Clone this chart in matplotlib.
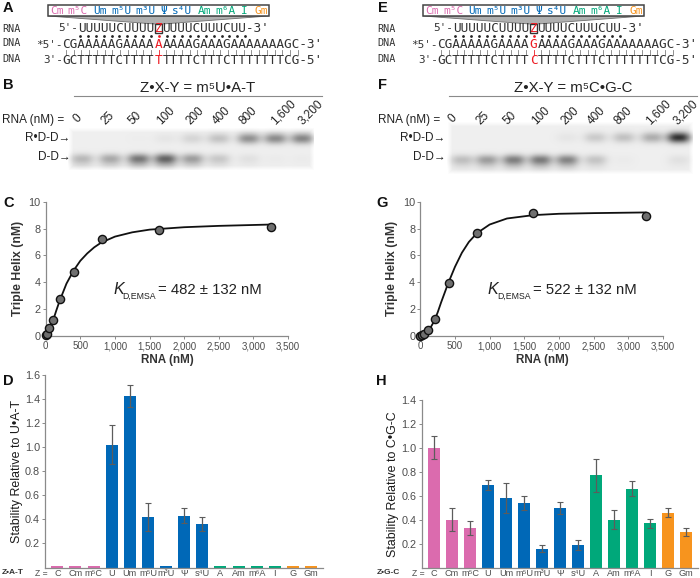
import numpy as np
import matplotlib
matplotlib.use("Agg")
import matplotlib.pyplot as plt
from matplotlib.patches import Polygon, Rectangle

plt.rcParams['font.family'] = ['Liberation Sans', 'DejaVu Sans']
plt.rcParams['mathtext.fontset'] = 'custom'
plt.rcParams['mathtext.rm'] = 'Liberation Sans'
plt.rcParams['mathtext.it'] = 'Liberation Sans:italic'
plt.rcParams['mathtext.bf'] = 'Liberation Sans:bold'
plt.rcParams['mathtext.default'] = 'regular'

W, H = 700, 578
PINK, BLUE, GREEN, ORANGE = '#DB6BAE', '#0068B7', '#00A87A', '#F7941E'
GRAY = '#4d4d4d'

# ---- data ----
box_labels = ['Cm', 'm⁵C', 'Um', 'm⁵U', 'm³U', 'Ψ', 's⁴U', 'Am', 'm⁶A', 'I', 'Gm']
box_colors = [PINK, PINK, BLUE, BLUE, BLUE, BLUE, BLUE, GREEN, GREEN, GREEN, ORANGE]
box_x = [56.7, 78, 100, 121.7, 145.3, 163.3, 182.3, 204.3, 225.7, 244.3, 261]

rna_pre, rna_left, rna_right = "5'-", "UUUUUCUUUU", "UUUUCUUUCUU-3'"
dna1_pre, dna1_left, dna1_right = "*5'-", "CGAAAAAGAAAA", "AAAAGAAAGAAAAAAAGC-3'"
dna2_pre, dna2_left, dna2_right = "3'-", "GCTTTTTCTTTT", "TTTTCTTTCTTTTTTTCG-5'"
pair_A = ('A', 'T')
pair_E = ('G', 'C')

lane_labels = ['0', '25', '50', '100', '200', '400', '800', '1,600', '3,200']
lane_lab_x = [77.3, 108.3, 135, 165.7, 195, 221.7, 248.3, 283.3, 310.7]
lane_lab_y = [119, 118, 118, 116, 116, 116, 116, 112, 112]

gel_b_lanes = [81.7, 110, 138.3, 165, 191.7, 218.3, 248.3, 275, 301.7]
gel_b_upper = [0.0, 0.0, 0.01, 0.05, 0.14, 0.24, 0.52, 0.55, 0.58]
gel_b_lower = [0.28, 0.36, 0.62, 0.72, 0.42, 0.20, 0.07, 0.02, 0.02]
gel_f_lanes = [461.7, 486.7, 513.3, 540, 566.7, 595, 623.3, 651.7, 678.3]
gel_f_upper = [0.0, 0.0, 0.0, 0.0, 0.05, 0.2, 0.25, 0.36, 1.05]
gel_f_lower = [0.25, 0.42, 0.58, 0.6, 0.55, 0.22, 0.02, 0.0, 0.07]

rna_nM = [0, 26, 52, 105, 205, 410, 815, 1630, 3250]
helix_c = [0.05, 0.15, 0.6, 1.2, 2.75, 4.8, 7.2, 7.9, 8.15]
helix_g = [0.0, 0.05, 0.15, 0.45, 1.27, 3.92, 7.69, 9.13, 8.96]
curve_c_x = [0, 25, 50, 100, 150, 200, 300, 400, 500, 600, 700, 800, 1000, 1250, 1500, 2000, 2500, 3250]
curve_c_y = [0, 0.2, 0.45, 1.05, 1.85, 2.6, 3.9, 4.85, 5.6, 6.15, 6.6, 6.95, 7.4, 7.72, 7.92, 8.1, 8.2, 8.3]
curve_g_x = [0, 50, 100, 150, 200, 250, 300, 350, 400, 500, 600, 700, 815, 1000, 1250, 1630, 2000, 2500, 3250]
curve_g_y = [0, 0.08, 0.3, 0.65, 1.1, 1.75, 2.5, 3.2, 3.9, 5.15, 6.2, 7.0, 7.65, 8.3, 8.75, 9.0, 9.1, 9.15, 9.2]

mods = ['C', 'Cm', 'm⁵C', 'U', 'Um', 'm⁵U', 'm³U', 'Ψ', 's⁴U',
        'A', 'Am', 'm⁶A', 'I', 'G', 'Gm']
mod_colors = [PINK]*3 + [BLUE]*6 + [GREEN]*4 + [ORANGE]*2
d_vals = [0.01, 0.01, 0.01, 1.02, 1.42, 0.42, 0.01, 0.43, 0.36, 0.01, 0.01, 0.01, 0.01, 0.01, 0.01]
d_errs = [0, 0, 0, 0.16, 0.09, 0.115, 0, 0.06, 0.06, 0, 0, 0, 0, 0, 0]
h_vals = [1.0, 0.40, 0.33, 0.69, 0.58, 0.54, 0.16, 0.50, 0.19, 0.77, 0.40, 0.66, 0.37, 0.46, 0.30]
h_errs = [0.095, 0.095, 0.06, 0.04, 0.125, 0.06, 0.03, 0.05, 0.045, 0.135, 0.08, 0.06, 0.035, 0.035, 0.035]

# ---- figure ----
fig = plt.figure(figsize=(W/100, H/100), dpi=100)
ov = fig.add_axes([0, 0, 1, 1], zorder=5)
ov.set_xlim(0, W); ov.set_ylim(H, 0); ov.axis('off'); ov.patch.set_alpha(0)
ax_gel = fig.add_axes([0, 0, 1, 1], zorder=0)
ax_gel.set_xlim(0, W); ax_gel.set_ylim(H, 0); ax_gel.axis('off')


def px_axes(x0, x1, ytop, ybot):
    return fig.add_axes([x0/W, 1-ybot/H, (x1-x0)/W, (ybot-ytop)/H], zorder=2)


ADV = 7.72
FS = ADV/0.602*0.72
MONO = dict(family='DejaVu Sans Mono', fontsize=FS, va='center', ha='left', color='#333333')
LETTER = dict(fontsize=10.5, fontweight='bold', va='center', color='#111111')


def seq_line(pre, left, mid, right, xz, y, dx):
    x0 = dx + xz - ADV/2
    xl = x0 - len(left)*ADV
    ov.text(xl + 0.6, y, pre, **{**MONO, 'ha': 'right', 'fontsize': FS*0.86})
    ov.text(xl, y, left, **MONO)
    ov.text(x0, y, mid, **{**MONO, 'color': '#ED1C24'})
    ov.text(x0 + ADV, y, right, **MONO)


def seq_panel(dx, pair, letter):
    xz = 158.7
    ov.add_patch(Polygon([(48+dx, 16), (268.7+dx, 16), (xz+4+dx, 24), (xz-4+dx, 24)],
                         fc='#b0b0b0', ec='#707070', lw=0.6))
    ov.add_patch(Rectangle((48+dx, 5), 220.7, 11, fc='white', ec='#444444', lw=1.1))
    for t, c, x in zip(box_labels, box_colors, box_x):
        ov.text(x+dx, 11, t, color=c, family=['DejaVu Sans Mono', 'DejaVu Sans'],
                fontsize=8.0, ha='center', va='center')
    for y, t in zip([28.5, 43.5, 59.5], ['RNA', 'DNA', 'DNA']):
        ov.text(2+dx, y, t, family='DejaVu Sans Mono', fontsize=7.3, va='center', color='#333333')
    seq_line(rna_pre, rna_left, 'Z', rna_right, xz, 28, dx)
    seq_line(dna1_pre, dna1_left, pair[0], dna1_right, xz, 44.6, dx)
    seq_line(dna2_pre, dna2_left, pair[1], dna2_right, xz, 60, dx)
    ov.add_patch(Rectangle((155+dx, 23.6), 7.4, 9.4, fc='none', ec='#333333', lw=1.0))
    # hoogsteen dots above the duplex
    for i in range(-10, 12):
        c = '#ED1C24' if i == 0 else '#222222'
        ov.plot([xz+dx+i*7.85], [35.6], 'o', ms=2.0, color=c, mew=0)
    # watson-crick pairs
    for i in range(-12, 19):
        c = '#ED1C24' if i == 0 else '#808080'
        x = xz+dx+i*ADV
        ov.plot([x, x], [49.5, 54.5], color=c, lw=0.6)
    ov.text(3+dx, 8, letter, **LETTER)


def gel(extent, lanes, upper, lower, yu, yl):
    x0, x1, y0, y1 = extent
    xs = np.arange(x0, x1, 1.0)
    ys = np.arange(y0, y1, 1.0)
    X, Y = np.meshgrid(xs, ys)
    img = np.zeros_like(X)
    for lx, u, l in zip(lanes, upper, lower):
        hx = np.exp(-np.abs((X-lx)/11.5)**2.6)
        img += u*hx*np.exp(-((Y-yu)/5.4)**2)
        img += l*hx*(np.exp(-((Y-yl)/5.0)**2) + 0.3*np.exp(-((Y-yl-6)/5.0)**2))
    edge = np.minimum(1, np.minimum(np.minimum(X-x0, x1-X)/5.0, np.minimum(Y-y0, y1-Y)/5.0))
    img = np.clip(img*0.7 + 0.065*edge, 0, 1)
    ax_gel.imshow(img, extent=[x0, x1, y1, y0], cmap='gray_r', vmin=0, vmax=1,
                  aspect='auto', interpolation='bilinear', zorder=1)
    ax_gel.set_xlim(0, W); ax_gel.set_ylim(H, 0)


def gel_text(dx, title, letter):
    ov.text(3+dx, 85, letter, **LETTER)
    ov.text(198+dx, 87.5, title, fontsize=10.8, ha='center', va='center', color='#222222')
    ov.plot([74+dx, 321.7+dx], [96.3, 96.3], color='#8a8a8a', lw=0.8)
    ov.text(2.5+dx, 119.5, 'RNA (nM) =', fontsize=8.5, va='center', color='#222222')
    for t, x, y in zip(lane_labels, lane_lab_x, lane_lab_y):
        ov.text(x+dx, y, t, fontsize=8.5, rotation=45, ha='center', va='center', color='#222222')
    ov.text(70.5+dx, 138, 'R•D-D→', fontsize=8.5, ha='right', va='center', color='#222222')
    ov.text(70.5+dx, 157.5, 'D-D→', fontsize=8.5, ha='right', va='center', color='#222222')


def style(ax):
    for s in ['top', 'right']:
        ax.spines[s].set_visible(False)
    for s in ['left', 'bottom']:
        ax.spines[s].set_color('#8a8a8a')
        ax.spines[s].set_linewidth(0.9)
    ax.patch.set_alpha(0)


def binding(x0, x1, cx, cy, pts, kd, letter, lx):
    ax = px_axes(x0, x1, 201.7, 336)
    style(ax)
    ax.set_xlim(0, 3500); ax.set_ylim(0, 10)
    ax.plot(cx, cy, color='#111111', lw=1.3, zorder=3, clip_on=False)
    ax.plot(rna_nM, pts, 'o', ms=5.9, mfc='#6f6f6f', mec='#111111', mew=1.0, zorder=4, clip_on=False)
    ax.set_xticks(range(0, 3501, 500))
    ax.set_xticklabels(['0', '500', '1,000', '1,500', '2,000', '2,500', '3,000', '3,500'],
                       fontsize=7.0, color=GRAY)
    ax.set_yticks(range(0, 11, 2))
    ax.set_yticklabels([str(v) for v in range(0, 11, 2)], fontsize=7.8, color=GRAY)
    ax.tick_params(length=2.2, width=0.7, color='#8a8a8a', pad=1.5)
    ov.text((x0+x1)/2+0.5, 360.5, 'RNA (nM)', fontweight='bold', fontsize=8.4, ha='center',
            va='center', color='#333333')
    ov.text(x0-28, 268, 'Triple Helix (nM)', fontweight='bold', fontsize=8.8, rotation=90,
            ha='center', va='center', color='#333333')
    ov.text(x0+67.5, 290, 'K', fontsize=11.5, style='italic', va='center', color='#222222')
    ov.text(x0+77, 296.5, 'D,EMSA', fontsize=6.3, va='center', color='#222222')
    ov.text(x0+112.6, 290, kd, fontsize=10.7, va='center', color='#222222')
    ov.text(lx, 203, letter, **LETTER)


def bars(x0, x1, ytop, ybot, ymax, vals, errs, ylabel, ylx, yly, rowlabel, rowx, zx, letter, lx, ly):
    ax = px_axes(x0, x1, ytop, ybot)
    style(ax)
    idx = np.arange(len(vals))
    ax.bar(idx, vals, width=0.66, color=mod_colors, zorder=2)
    e = np.array(errs)
    m = e > 0
    ax.errorbar(idx[m], np.array(vals)[m], yerr=e[m], fmt='none', ecolor='#5c5c5c',
                elinewidth=0.9, capsize=2.3, capthick=0.8, zorder=3)
    ax.set_xlim(-0.68, 14.66); ax.set_ylim(0, ymax)
    ax.set_xticks(idx)
    ax.set_xticklabels(mods, fontsize=6.6, color=GRAY)
    ticks = np.arange(0.2, ymax+0.01, 0.2)
    ax.set_yticks(ticks)
    ax.set_yticklabels([f'{v:.1f}' for v in ticks], fontsize=7.8, color=GRAY)
    ax.tick_params(axis='x', length=0, pad=1.0)
    ax.tick_params(axis='y', length=2.2, width=0.7, color='#8a8a8a', pad=1.5)
    ov.text(ylx, yly, ylabel, fontsize=8.9, rotation=90, ha='center', va='center', color='#1a1a1a')
    ov.text(rowx, 573, rowlabel, fontsize=6.0, fontweight='bold', va='center', color='#333333')
    ov.text(zx, 573, 'Z =', fontsize=6.2, va='center', color=GRAY)
    ov.text(lx, ly, letter, **LETTER)


seq_panel(0, pair_A, 'A')
seq_panel(375, pair_E, 'E')
gel((68, 314, 127, 170), gel_b_lanes, gel_b_upper, gel_b_lower, 138, 158)
gel((447, 693, 121, 174), gel_f_lanes, gel_f_upper, gel_f_lower, 137, 159)
gel_text(0, 'Z•X-Y = m⁵U•A-T', 'B')
gel_text(375, 'Z•X-Y = m⁵C•G-C', 'F')
binding(45.7, 288, curve_c_x, curve_c_y, helix_c, '= 482 ± 132 nM', 'C', 3)
binding(420.3, 663, curve_g_x, curve_g_y, helix_g, '= 522 ± 132 nM', 'G', 376)
bars(45, 323, 374.6, 567.5, 1.6, d_vals, d_errs, 'Stability Relative to U•A-T', 16.7, 471.5,
     'Z•A-T', 2, 35, 'D', 3, 381)
bars(421.7, 698, 399.7, 567.7, 1.4, h_vals, h_errs, 'Stability Relative to C•G-C', 393, 484,
     'Z•G-C', 377, 412, 'H', 376, 381)

fig.savefig('out.png', dpi=100)
